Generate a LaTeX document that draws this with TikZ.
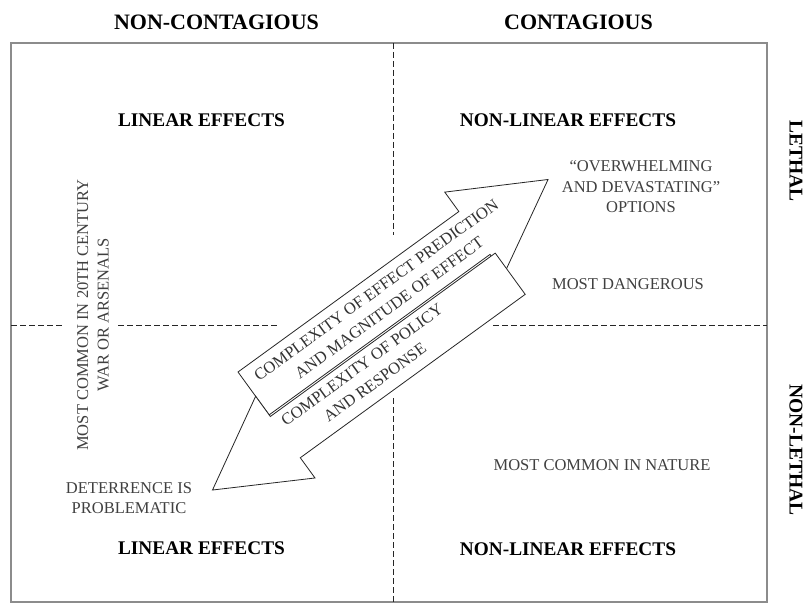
\documentclass[tikz,border=0pt]{standalone}
\usepackage{fontspec}
\setmainfont{Liberation Serif}
\begin{document}
\begin{tikzpicture}[x=1pt,y=-1pt,
  hdr/.style={font=\bfseries\fontsize{22}{24}\selectfont, inner sep=0pt},
  eff/.style={font=\bfseries\fontsize{19.3}{22}\selectfont, inner sep=0pt},
  side/.style={font=\bfseries\fontsize{19.5}{22}\selectfont, inner sep=0pt, rotate=-90},
  note/.style={font=\fontsize{16.5}{20.5}\selectfont, text=black!75, inner sep=0pt, align=center},
  frame/.style={draw=black!45, line width=1.5pt},
  divider/.style={draw=black!85, line width=0.8pt, dash pattern=on 6pt off 3pt},
  blockarrow/.style={draw=black!85, fill=white, line width=0.8pt, line join=miter},
  arrowtext/.style={font=\fontsize{16.5}{22}\selectfont, text=black!80, inner sep=0pt, align=center, rotate=36}
]
\useasboundingbox (0,0) rectangle (804,604);
\fill[white] (0,0) rectangle (804,604);

% frame and dividers
\draw[frame] (11,43) rectangle (767,602);
\draw[divider] (393,43) -- (393,235);
\draw[divider] (393,398) -- (393,602);
\draw[divider] (11,325) -- (62,325);
\draw[divider] (118,325) -- (277,325);
\draw[divider] (493,325) -- (767,325);

% headers
\node[hdr] (nc) at (216.5,22) {NON-CONTAGIOUS};
\node[hdr] (c) at (578.5,22) {CONTAGIOUS};
\node[side] (leth) at (796,161) {LETHAL};
\node[side] (nleth) at (796,450) {NON-LETHAL};

% quadrant labels
\node[eff] (le1) at (201.5,120) {LINEAR EFFECTS};
\node[eff] (nle1) at (568,120) {NON-LINEAR EFFECTS};
\node[eff] (le2) at (201.5,548) {LINEAR EFFECTS};
\node[eff] (nle2) at (568,549) {NON-LINEAR EFFECTS};

% notes
\node[note] (ow) at (641,187) {“OVERWHELMING\\AND DEVASTATING”\\OPTIONS};
\node[note] (md) at (628,284) {MOST DANGEROUS};
\node[note] (mcn) at (602,465) {MOST COMMON IN NATURE};
\node[note] (det) at (129,498) {DETERRENCE IS\\PROBLEMATIC};
\node[note, rotate=90] (mc20) at (93,315) {MOST COMMON IN 20TH CENTURY\\WAR OR ARSENALS};

% block arrows
\begin{scope}[shift={(238,372)}, rotate=36]
  \draw[blockarrow] (0,0) -- (273,0) -- (273,-24) -- (364,26.5) -- (273,77) -- (273,53) -- (0,53) -- cycle;
  \draw[blockarrow] (278,55) -- (278,106) -- (0,106) -- (0,131) -- (-90,80.5) -- (0,30) -- (0,55) -- cycle;
  \node[arrowtext] (t1) at (160,26) {COMPLEXITY OF EFFECT PREDICTION\\AND MAGNITUDE OF EFFECT};
  \node[arrowtext] (t2) at (104.5,78) {COMPLEXITY OF POLICY\\AND RESPONSE};
\end{scope}
\end{tikzpicture}
\end{document}
